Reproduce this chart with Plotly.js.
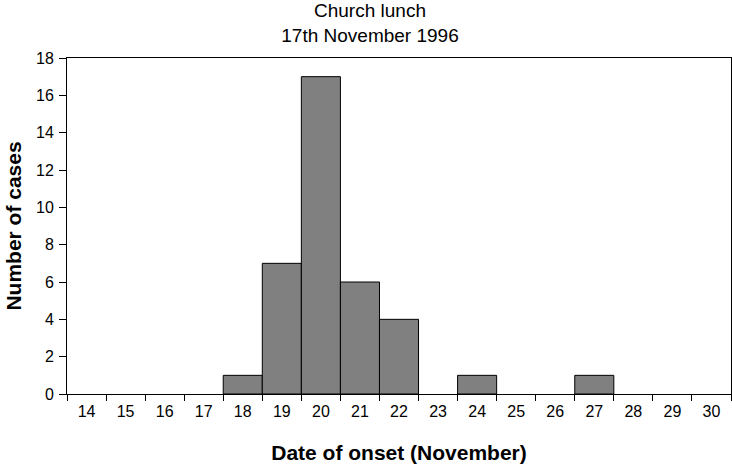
<!DOCTYPE html>
<html>
<head>
<meta charset="utf-8">
<script src="https://cdn.plot.ly/plotly-3.0.1.min.js"></script>
<style>html,body{margin:0;padding:0;background:#fff;}#chart{width:732px;height:464px;}</style>
</head>
<body>
<div id="chart"></div>
<script>
const days = ["14","15","16","17","18","19","20","21","22","23","24","25","26","27","28","29","30"];
const cases = [0,0,0,0,1,7,17,6,4,0,1,0,0,1,0,0,0];
const yTicks = [0,2,4,6,8,10,12,14,16,18];

const font = "Liberation Sans, Arial, sans-serif";

const trace = {
  type: "bar",
  x: days,
  y: cases,
  marker: {
    color: "#808080",
    line: {color: "#000000", width: cases.map(v => v > 0 ? 1 : 0)}
  },
  hoverinfo: "x+y"
};

const layout = {
  width: 732, height: 464,
  margin: {l: 67, r: 1, t: 58, b: 70, pad: 0},
  paper_bgcolor: "#ffffff",
  plot_bgcolor: "#ffffff",
  showlegend: false,
  bargap: 0,
  font: {family: font, color: "#000000"},
  title: {
    text: "Church lunch<br>17th November 1996",
    font: {family: font, size: 19, color: "#000000"},
    x: 370/732, xanchor: "center", xref: "container",
    y: 1, yanchor: "bottom", yref: "paper",
    pad: {b: 41}
  },
  xaxis: {
    type: "category",
    categoryorder: "array",
    categoryarray: days,
    tickson: "boundaries",
    ticks: "outside",
    ticklen: 6,
    tickcolor: "#000",
    tickwidth: 1,
    ticklabelstandoff: 3,
    showline: true,
    linecolor: "#000",
    linewidth: 1,
    mirror: true,
    showgrid: false,
    zeroline: false,
    tickfont: {family: font, size: 16, color: "#000"},
    title: {text: "<b>Date of onset (November)</b>", font: {family: font, size: 21, color: "#000"}, standoff: 28},
    automargin: false
  },
  yaxis: {
    range: [0, 18],
    tickvals: yTicks,
    ticktext: yTicks.map(String),
    ticks: "outside",
    ticklen: 7,
    tickcolor: "#000",
    tickwidth: 1,
    ticklabelstandoff: 2,
    showline: true,
    linecolor: "#000",
    linewidth: 1,
    mirror: true,
    showgrid: false,
    zeroline: false,
    tickfont: {family: font, size: 16, color: "#000"},
    title: {text: "<b>Number of cases</b>", font: {family: font, size: 21, color: "#000"}, standoff: 8},
    automargin: false
  }
};

Plotly.newPlot("chart", [trace], layout, {displayModeBar: false, staticPlot: true});
</script>
</body>
</html>
